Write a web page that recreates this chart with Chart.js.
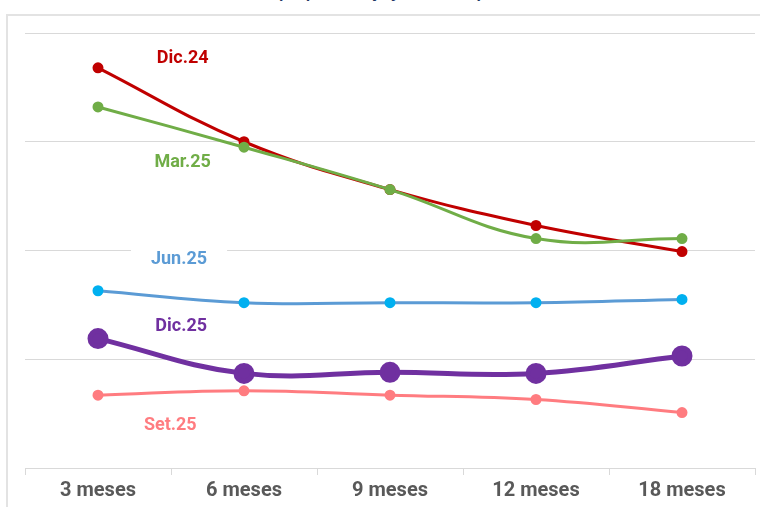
<!DOCTYPE html>
<html>
<head>
<meta charset="utf-8">
<script src="https://cdn.jsdelivr.net/npm/chart.js@4.4.1/dist/chart.umd.min.js"></script>
<style>
  html, body { margin: 0; padding: 0; background: #fff; }
  #wrap { position: relative; width: 760px; height: 507px; overflow: hidden; }
  #frame { position: absolute; left: 6px; top: 14px; width: 800px; height: 600px;
           border: 2px solid #e3e3e3; box-sizing: border-box; }
  #title { position: absolute; left: 0; width: 760px; top: -16px; text-align: center;
           font: bold 16px "Liberation Sans", Arial, sans-serif; color: #1f3864; }
  #c { position: absolute; left: 0; top: 0; }
</style>
</head>
<body>
<div id="wrap">
  <div id="frame"></div>
  <div id="title">(en porcentaje y en meses)</div>
  <canvas id="c" width="768" height="507"></canvas>
</div>
<script>
// horizontes
const horizontes = ['3 meses', '6 meses', '9 meses', '12 meses', '18 meses'];

// expectativas por fecha de encuesta
const dic24 = [3.68, 3.00, 2.56, 2.23, 1.99];
const mar25 = [3.32, 2.95, 2.56, 2.11, 2.11];
const jun25 = [1.63, 1.52, 1.52, 1.52, 1.55];
const dic25 = [1.19, 0.87, 0.88, 0.87, 1.03];
const set25 = [0.67, 0.71, 0.67, 0.63, 0.51];

// etiquetas de series: [texto, posición x (índice), valor y, color, fondo blanco]
const etiquetas = [
  ['Dic.24', 0.58, 3.77, '#c00000', false],
  ['Mar.25', 0.58, 2.81, '#70ad47', false],
  ['Jun.25', 0.555, 1.92, '#5b9bd5', true],
  ['Dic.25', 0.57, 1.30, '#7030a0', false],
  ['Set.25', 0.495, 0.39, '#ff7c80', false]
];

function serie(label, data, color, punto, ancho, radio) {
  return {
    label: label,
    data: data,
    borderColor: color,
    backgroundColor: punto,
    pointBackgroundColor: punto,
    pointBorderColor: punto,
    borderWidth: ancho,
    pointRadius: radio,
    pointHoverRadius: radio,
    tension: 0.4
  };
}

// dibuja las etiquetas de cada serie dentro del área
const etiquetasPlugin = {
  id: 'etiquetas',
  afterDatasetsDraw(chart) {
    const ctx = chart.ctx;
    const x = chart.scales.x, y = chart.scales.y;
    ctx.save();
    ctx.font = 'bold 18px Roboto, sans-serif';
    ctx.textAlign = 'center';
    ctx.textBaseline = 'middle';
    etiquetas.forEach(e => {
      const px = x.getPixelForValue(0) + e[1] * (x.getPixelForValue(1) - x.getPixelForValue(0));
      const py = y.getPixelForValue(e[2]);
      if (e[4]) {
        const w = ctx.measureText(e[0]).width;
        ctx.fillStyle = '#fff';
        ctx.fillRect(px - w / 2 - 20, py - 10, w + 40, 20);
      }
      ctx.fillStyle = e[3];
      ctx.fillText(e[0], px, py);
    });
    ctx.restore();
  }
};

new Chart(document.getElementById('c'), {
  type: 'line',
  data: {
    labels: horizontes,
    datasets: [
      serie('Set.25', set25, '#ff7c80', '#ff7c80', 3, 4),
      serie('Dic.25', dic25, '#7030a0', '#7030a0', 5, 8),
      serie('Jun.25', jun25, '#5b9bd5', '#00b0f0', 3, 4),
      serie('Mar.25', mar25, '#70ad47', '#70ad47', 3, 4),
      serie('Dic.24', dic24, '#c00000', '#c00000', 3, 4)
    ]
  },
  options: {
    responsive: false,
    animation: false,
    events: [],
    layout: { padding: { left: 25, right: 0, top: 33, bottom: 0 } },
    plugins: {
      legend: { display: false },
      tooltip: { enabled: false },
      title: { display: false }
    },
    scales: {
      x: {
        offset: true,
        grid: { offset: true, drawOnChartArea: false, drawTicks: true, tickLength: 7, color: '#d9d9d9' },
        border: { color: '#d9d9d9', width: 1 },
        ticks: {
          color: '#595959',
          padding: 4,
          font: { family: 'Roboto, sans-serif', size: 20, weight: 'bold' }
        }
      },
      y: {
        min: 0,
        max: 4,
        ticks: { display: false, stepSize: 1 },
        grid: { color: '#d9d9d9', drawTicks: false },
        border: { display: false }
      }
    }
  },
  plugins: [etiquetasPlugin]
});
</script>
</body>
</html>
